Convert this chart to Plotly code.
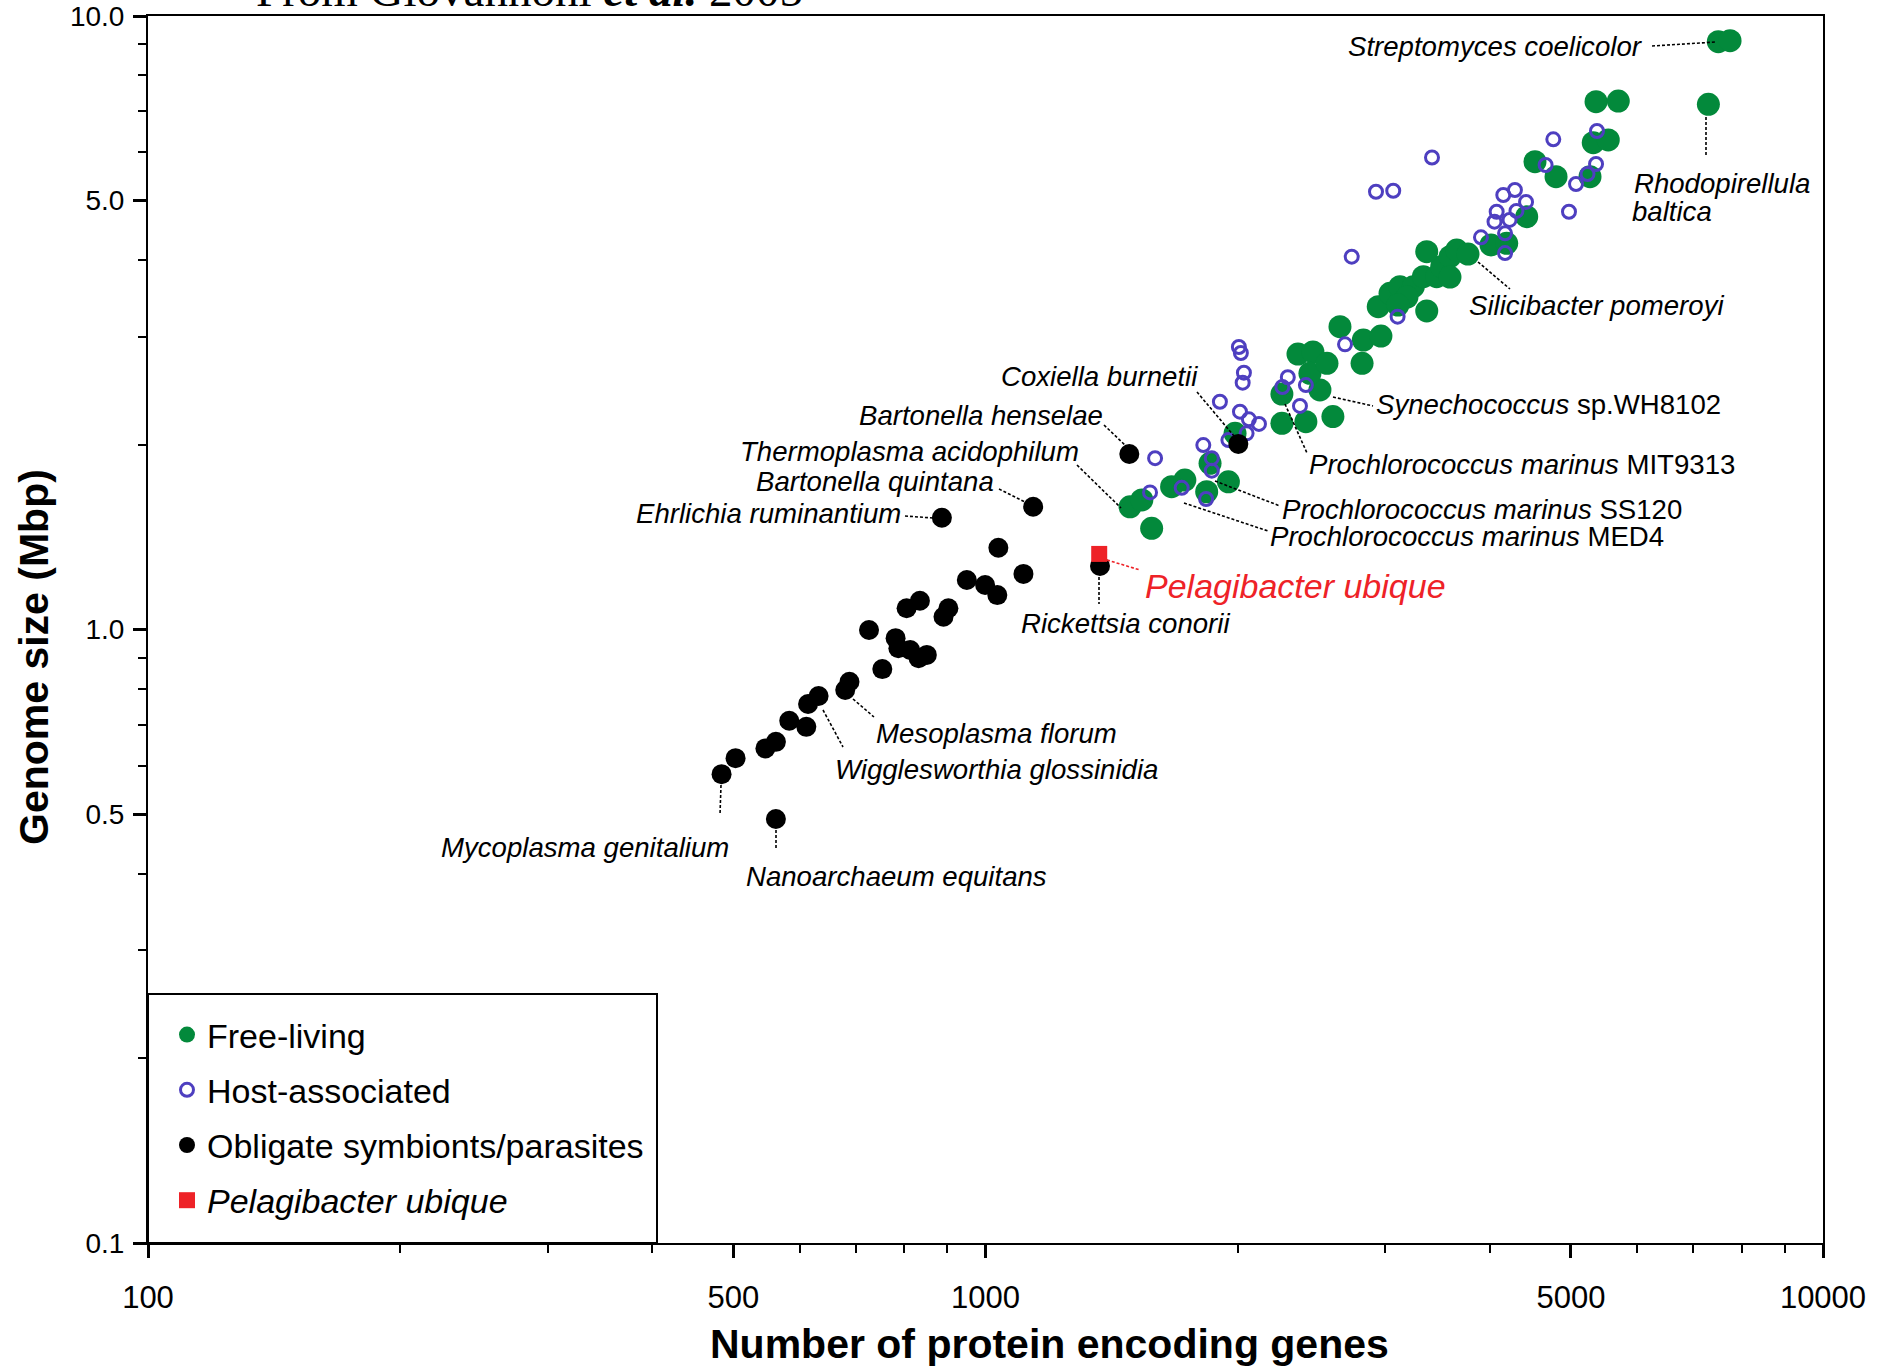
import plotly.graph_objects as go

# ---------------- data (genes, genome size Mbp) ----------------
free_genes = [1488, 1537, 1579, 1668, 1730, 1854, 1950, 1837, 1986, 2259, 2413, 2599,
              2259, 2508, 2361, 2460, 2440, 2557, 2650, 2816, 2826, 2966, 2944, 3041,
              3125, 3242, 3364, 3333, 3457, 3505, 3364, 3586, 3653, 3768, 4014, 4191,
              4428, 4530, 4800, 5270, 5317, 5541, 5358, 5696, 7297, 7499, 7745, 3586,
              3186, 3108]
free_size = [1.585, 1.626, 1.462, 1.709, 1.752, 1.866, 1.741, 1.677, 2.088, 2.168, 2.181, 2.224,
             2.420, 2.457, 2.812, 2.834, 2.616, 2.716, 3.116, 2.716, 2.964, 3.008, 3.359, 3.532,
             3.621, 3.621, 3.305, 3.759, 3.759, 3.903, 4.128, 4.052, 4.155, 4.093, 4.234, 4.261,
             4.709, 5.787, 5.471, 5.471, 6.215, 6.279, 7.249, 7.268, 7.179, 9.08, 9.115, 3.754,
             3.483, 3.380]

host_genes = [2007, 2018, 2035, 2028, 1905, 2013, 2063, 2121, 2050, 1950, 1594, 1820,
              1863, 1863, 1572, 1715, 1834, 2296, 2262, 2413, 2374, 2687, 3105, 2737,
              2926, 3068, 3413, 3905, 4077, 4152, 4287, 4420, 4305, 4224, 4053, 4172,
              4172, 4664, 4764, 4974, 5071, 5234, 5358, 5372]
host_size = [2.887, 2.823, 2.622, 2.525, 2.351, 2.265, 2.201, 2.163, 2.088, 2.036, 1.902, 1.998,
             1.902, 1.815, 1.673, 1.702, 1.632, 2.577, 2.485, 2.503, 2.314, 2.916, 3.235, 4.052,
             5.171, 5.190, 5.880, 4.358, 4.797, 5.108, 5.204, 4.976, 4.811, 4.651, 4.621, 4.424,
             4.108, 5.716, 6.295, 4.797, 5.323, 5.527, 5.738, 6.494]

obligate_genes = [1140, 887, 1036, 1110, 950, 999, 1033, 835, 805, 903, 891, 726,
                  781, 787, 813, 851, 832, 753, 688, 680, 632, 614, 583, 611,
                  562, 546, 503, 484, 562, 1370, 1485, 2004]
obligate_size = [1.585, 1.521, 1.359, 1.232, 1.204, 1.182, 1.138, 1.114, 1.083, 1.083, 1.049, 0.998,
                 0.968, 0.932, 0.926, 0.909, 0.898, 0.862, 0.822, 0.797, 0.779, 0.756, 0.710, 0.694,
                 0.656, 0.640, 0.617, 0.581, 0.491, 1.269, 1.932, 2.007]

pelagibacter_genes = [1367]
pelagibacter_size = [1.328]

x_tickvals = [100, 500, 1000, 5000, 10000]
x_ticktext = ["100", "500", "1000", "5000", "10000"]
y_tickvals = [0.1, 0.5, 1.0, 5.0, 10.0]
y_ticktext = ["0.1", "0.5", "1.0", "5.0", "10.0"]
x_minor = [200, 300, 400, 600, 700, 800, 900, 2000, 3000, 4000, 6000, 7000, 8000, 9000]
y_minor = [0.2, 0.3, 0.4, 0.6, 0.7, 0.8, 0.9, 2, 3, 4, 6, 7, 8, 9]

# ---------------- styling ----------------
W, H = 1890, 1369
L, R, T, B = 148, 1823, 16, 1243
SANS = "Liberation Sans, Arial, Helvetica, sans-serif"
SERIF = "Liberation Serif, Times New Roman, serif"
GREEN = "#03893B"
BLUE = "#4E3FC0"
RED = "#EE2227"
LAB = 27.6


def px(xp):
    return (xp - L) / (R - L)


def py(yp):
    return (B - yp) / (B - T)


fig = go.Figure()
fig.add_trace(go.Scatter(x=free_genes, y=free_size, mode="markers", name="Free-living",
                         legendgroup="a",
                         marker=dict(size=23, color=GREEN, line=dict(width=0))))
fig.add_trace(go.Scatter(x=host_genes, y=host_size, mode="markers", name="Host-associated",
                         legendgroup="b",
                         marker=dict(size=13, color=BLUE, symbol="circle-open",
                                     line=dict(width=3, color=BLUE))))
fig.add_trace(go.Scatter(x=obligate_genes, y=obligate_size, mode="markers",
                         name="Obligate symbionts/parasites", legendgroup="c",
                         marker=dict(size=20, color="black", line=dict(width=0))))
fig.add_trace(go.Scatter(x=pelagibacter_genes, y=pelagibacter_size, mode="markers",
                         name="<i>Pelagibacter ubique</i>", legendgroup="d",
                         marker=dict(size=16, color=RED, symbol="square", line=dict(width=0))))

# labels: (text, x_px, y_px, anchor, size, color)
labels = [
    ("<i>Streptomyces coelicolor</i>", 1645, 46, "right", LAB, "black"),
    ("<i>Rhodopirellula</i>", 1632, 183, "left", LAB, "black"),
    ("<i>baltica</i>", 1630, 211, "left", LAB, "black"),
    ("<i>Silicibacter pomeroyi</i>", 1467, 305, "left", LAB, "black"),
    ("<i>Synechococcus</i> sp.WH8102", 1374, 405, "left", LAB, "black"),
    ("<i>Prochlorococcus marinus</i> MIT9313", 1307, 464, "left", LAB, "black"),
    ("<i>Prochlorococcus marinus</i> SS120", 1280, 510, "left", LAB, "black"),
    ("<i>Prochlorococcus marinus</i> MED4", 1268, 536, "left", LAB, "black"),
    ("<i>Pelagibacter ubique</i>", 1143, 586, "left", 34, RED),
    ("<i>Rickettsia conorii</i>", 1019, 624, "left", LAB, "black"),
    ("<i>Coxiella burnetii</i>", 999, 377, "left", LAB, "black"),
    ("<i>Bartonella henselae</i>", 857, 415, "left", LAB, "black"),
    ("<i>Thermoplasma acidophilum</i>", 738, 452, "left", LAB, "black"),
    ("<i>Bartonella quintana</i>", 754, 481, "left", LAB, "black"),
    ("<i>Ehrlichia ruminantium</i>", 903, 513, "right", LAB, "black"),
    ("<i>Mesoplasma florum</i>", 874, 734, "left", LAB, "black"),
    ("<i>Wigglesworthia glossinidia</i>", 833, 769, "left", LAB, "black"),
    ("<i>Mycoplasma genitalium</i>", 731, 847, "right", LAB, "black"),
    ("<i>Nanoarchaeum equitans</i>", 744, 876, "left", LAB, "black"),
]

annotations = []
for text, xp, yp, anchor, size, color in labels:
    annotations.append(dict(text=text, x=px(xp), y=py(yp), xref="paper", yref="paper",
                            xanchor=anchor, yanchor="middle", showarrow=False,
                            font=dict(family=SANS, size=size, color=color)))

# leader lines (pixel positions of the label connectors)
leaders = [
    ((1652, 46), (1716, 42), "black"),
    ((1706, 117), (1706, 157), "black"),
    ((1478, 262), (1510, 289), "black"),
    ((1333, 397), (1373, 406), "black"),
    ((1285, 404), (1307, 453), "black"),
    ((1215, 481), (1280, 506), "black"),
    ((1184, 503), (1268, 531), "black"),
    ((1107, 560), (1140, 570), RED),
    ((1099, 577), (1099, 604), "black"),
    ((1197, 392), (1234, 436), "black"),
    ((1104, 425), (1127, 447), "black"),
    ((1077, 465), (1121, 508), "black"),
    ((999, 489), (1027, 503), "black"),
    ((905, 516), (933, 518), "black"),
    ((853, 699), (874, 717), "black"),
    ((823, 710), (843, 747), "black"),
    ((721, 785), (720, 815), "black"),
    ((776, 830), (776, 850), "black"),
]
shapes = []
for (x0, y0), (x1, y1), c in leaders:
    shapes.append(dict(type="line", xref="paper", yref="paper",
                       x0=px(x0), y0=py(y0), x1=px(x1), y1=py(y1),
                       line=dict(color=c, width=1.6, dash="3px,2px")))

# legend frame
shapes.append(dict(type="rect", xref="paper", yref="paper",
                   x0=0, y0=0, x1=px(657), y1=py(994),
                   line=dict(color="black", width=2), fillcolor="rgba(0,0,0,0)"))

# axis titles and source note
annotations.append(dict(text="<b>Number of protein encoding genes</b>", x=px(1049), y=py(1344),
                        xref="paper", yref="paper", xanchor="center", yanchor="middle",
                        showarrow=False, font=dict(family=SANS, size=41, color="black")))
annotations.append(dict(text="<b>Genome size (Mbp)</b>", x=px(34), y=py(657),
                        xref="paper", yref="paper", xanchor="center", yanchor="middle",
                        textangle=-90, showarrow=False,
                        font=dict(family=SANS, size=41, color="black")))
annotations.append(dict(text="From Giovannoni <b><i>et al.</i></b> 2005", x=px(529), y=py(18),
                        xref="paper", yref="paper", xanchor="center", yanchor="bottom",
                        showarrow=False, font=dict(family=SERIF, size=47, color="black")))

fig.update_layout(
    width=W, height=H,
    margin=dict(l=L, r=W - R, t=T, b=H - B, pad=0, autoexpand=False),
    paper_bgcolor="white", plot_bgcolor="white",
    showlegend=True,
    legend=dict(x=0, y=py(1243 - 14), xanchor="left", yanchor="bottom",
                bgcolor="rgba(0,0,0,0)", borderwidth=0, tracegroupgap=8, indentation=19,
                font=dict(family=SANS, size=34, color="black")),
    annotations=annotations,
    shapes=shapes,
    xaxis=dict(type="log", range=[2, 4], showgrid=False, zeroline=False, automargin=False,
               showline=True, mirror=True, linecolor="black", linewidth=2,
               tickmode="array", tickvals=x_tickvals, ticktext=x_ticktext,
               ticks="outside", ticklen=13, tickwidth=3, tickcolor="black",
               ticklabelstandoff=13,
               tickfont=dict(family=SANS, size=31, color="black"),
               minor=dict(tickvals=x_minor, ticks="outside", ticklen=8, tickwidth=1.5,
                          tickcolor="black", showgrid=False)),
    yaxis=dict(type="log", range=[-1, 1], showgrid=False, zeroline=False, automargin=False,
               showline=True, mirror=True, linecolor="black", linewidth=2,
               tickmode="array", tickvals=y_tickvals, ticktext=y_ticktext,
               ticks="outside", ticklen=13, tickwidth=3, tickcolor="black",
               ticklabelstandoff=3,
               tickfont=dict(family=SANS, size=28, color="black"),
               minor=dict(tickvals=y_minor, ticks="outside", ticklen=8, tickwidth=1.5,
                          tickcolor="black", showgrid=False)),
)

fig.write_html("out.html", config={"displayModeBar": False},
               post_script="document.body.style.margin='0px';document.body.style.overflow='hidden';")
